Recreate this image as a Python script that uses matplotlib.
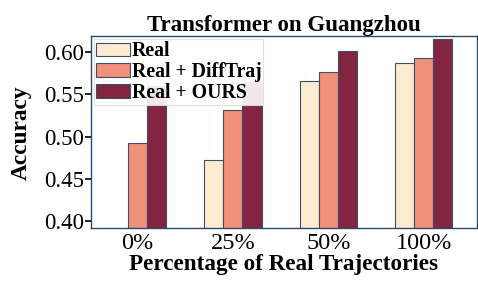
import numpy as np
import matplotlib.pyplot as plt

plt.rcParams['font.family'] = ['Liberation Serif', 'DejaVu Serif']

# data
groups = ['0%', '25%', '50%', '100%']
real = [0.0, 0.473, 0.566, 0.587]
real_difftraj = [0.493, 0.532, 0.577, 0.593]
real_ours = [0.560, 0.565, 0.601, 0.615]

series = [('Real', real, '#FDEBD0'),
          ('Real + DiffTraj', real_difftraj, '#F0907A'),
          ('Real + OURS', real_ours, '#832540')]

fig, ax = plt.subplots(figsize=(4.78, 2.91), dpi=100)
x = np.arange(len(groups))
w = 0.2
for i, (name, vals, col) in enumerate(series):
    ax.bar(x + (i - 1) * w, vals, w, label=name, color=col,
           edgecolor='#3d4f68', linewidth=0.8)

ax.set_ylim(0.3917, 0.6185)
ax.set_xlim(-0.49, 3.56)
ax.set_yticks([0.40, 0.45, 0.50, 0.55, 0.60])
ax.set_yticklabels(['0.40', '0.45', '0.50', '0.55', '0.60'])
ax.set_xticks(x)
ax.set_xticklabels(groups)
ax.tick_params(axis='y', labelsize=16.5, length=4, width=1.2, pad=1)
ax.tick_params(axis='x', labelsize=17.5, length=0, pad=3)
for s in ax.spines.values():
    s.set_color('#2e4a6b')
    s.set_linewidth(1.0)

ax.set_title('Transformer on Guangzhou', fontsize=16.5, fontweight='bold', pad=3)
ax.set_xlabel('Percentage of Real Trajectories', fontsize=16.7, fontweight='bold', labelpad=0)
ax.set_ylabel('Accuracy', fontsize=16.8, fontweight='bold')
ax.yaxis.set_label_coords(-0.152, 0.5)

leg = ax.legend(loc='upper left', prop={'weight': 'bold', 'size': 14.2},
                handlelength=1.72, handleheight=0.7, handletextpad=0.1,
                labelspacing=0.05, borderpad=0.1, borderaxespad=0.15,
                fancybox=False, framealpha=0.9)
leg.get_frame().set_edgecolor('#dddddd')
leg.get_frame().set_linewidth(0.8)

fig.subplots_adjust(left=0.19, right=0.998, top=0.875, bottom=0.215)
fig.savefig('out.png', dpi=100)
